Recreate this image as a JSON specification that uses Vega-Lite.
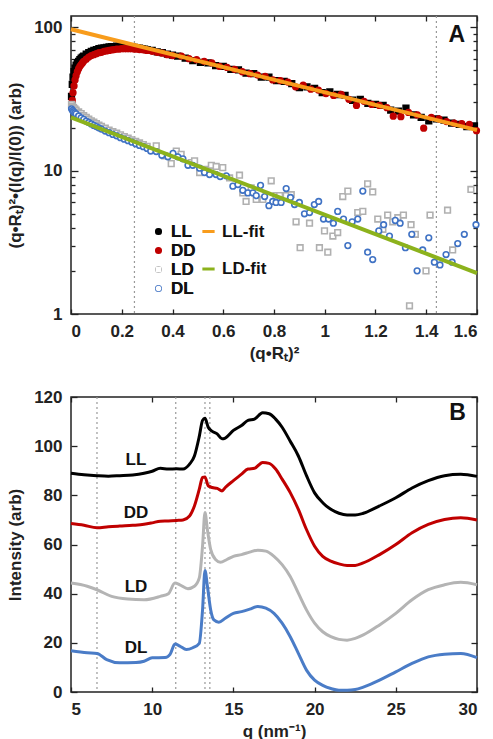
{
"$schema": "https://vega.github.io/schema/vega-lite/v6.json",
"padding": {"left": 5, "top": 14, "right": 5, "bottom": 0},
"background": "white",
"config": {
  "font": "Liberation Sans",
  "view": {"stroke": "#222", "strokeWidth": 1.5},
  "axis": {"labelFont": "Liberation Sans", "labelFontSize": 17, "labelFontWeight": "bold", "labelColor": "#222", "titleFont": "Liberation Sans", "titleFontSize": 17, "titleFontWeight": "bold", "titleColor": "#222", "grid": false, "domain": false, "tickColor": "#222", "tickWidth": 1.3}
},
"spacing": 25,
"resolve": {"scale": {"color": "independent", "x": "independent", "y": "independent"}},
"vconcat": [
{
  "width": 406, "height": 298,
  "resolve": {"axis": {"x": "independent", "y": "independent"}},
  "layer": [
    {
      "data": {"values": [{"v": 0.25}, {"v": 1.44}]},
      "mark": {"type": "rule", "color": "#999", "strokeDash": [2, 3], "strokeWidth": 1.2},
      "encoding": {
        "x": {"field": "v", "type": "quantitative", "scale": {"domain": [0, 1.6], "nice": false},
              "axis": {"orient": "top", "values": [0, 0.2, 0.4, 0.6, 0.8, 1, 1.2, 1.4, 1.6], "labels": false, "title": null, "tickSize": -5}}
      }
    },
    {
      "data": {"values": [
        {"s":"LL","x":0.002,"y":33},{"s":"LL","x":0.005,"y":40},{"s":"LL","x":0.008,"y":45},{"s":"LL","x":0.012,"y":49},{"s":"LL","x":0.016,"y":52},{"s":"LL","x":0.02,"y":54.5},{"s":"LL","x":0.025,"y":56.5},{"s":"LL","x":0.03,"y":58},{"s":"LL","x":0.035,"y":59.5},{"s":"LL","x":0.04,"y":61},{"s":"LL","x":0.045,"y":62},{"s":"LL","x":0.05,"y":63},{"s":"LL","x":0.06,"y":65},{"s":"LL","x":0.07,"y":66.5},{"s":"LL","x":0.08,"y":68},{"s":"LL","x":0.09,"y":69},{"s":"LL","x":0.1,"y":70},{"s":"LL","x":0.11,"y":71},{"s":"LL","x":0.12,"y":71.5},{"s":"LL","x":0.13,"y":72},{"s":"LL","x":0.14,"y":72.5},{"s":"LL","x":0.15,"y":73},{"s":"LL","x":0.16,"y":73.5},{"s":"LL","x":0.17,"y":73.5},{"s":"LL","x":0.18,"y":74},{"s":"LL","x":0.19,"y":74},{"s":"LL","x":0.2,"y":74},{"s":"LL","x":0.21,"y":73.5},{"s":"LL","x":0.22,"y":73.5},{"s":"LL","x":0.23,"y":73},{"s":"LL","x":0.24,"y":73},{"s":"LL","x":0.25,"y":72.5},{"s":"LL","x":0.26,"y":72},{"s":"LL","x":0.27,"y":71.5},{"s":"LL","x":0.28,"y":71},{"s":"LL","x":0.29,"y":70.5},{"s":"LL","x":0.3,"y":70},{"s":"LL","x":0.32,"y":69},{"s":"LL","x":0.34,"y":67.5},{"s":"LL","x":0.36,"y":66.5},{"s":"LL","x":0.38,"y":65},{"s":"LL","x":0.4,"y":64},
        {"s":"LL","x":0.42,"y":63},{"s":"LL","x":0.45,"y":61},{"s":"LL","x":0.48,"y":58.5},{"s":"LL","x":0.51,"y":57},{"s":"LL","x":0.54,"y":56.5},{"s":"LL","x":0.57,"y":54},{"s":"LL","x":0.6,"y":53.5},{"s":"LL","x":0.63,"y":51},{"s":"LL","x":0.66,"y":50.5},{"s":"LL","x":0.69,"y":48},{"s":"LL","x":0.72,"y":47.5},{"s":"LL","x":0.75,"y":45},{"s":"LL","x":0.78,"y":45},{"s":"LL","x":0.81,"y":42.5},{"s":"LL","x":0.84,"y":42},{"s":"LL","x":0.87,"y":40.5},{"s":"LL","x":0.9,"y":38},{"s":"LL","x":0.93,"y":38.5},{"s":"LL","x":0.96,"y":37.5},{"s":"LL","x":0.99,"y":35},{"s":"LL","x":1.02,"y":35.5},{"s":"LL","x":1.05,"y":34},{"s":"LL","x":1.08,"y":33.5},{"s":"LL","x":1.11,"y":31},{"s":"LL","x":1.14,"y":31.5},{"s":"LL","x":1.17,"y":29.5},{"s":"LL","x":1.2,"y":29},{"s":"LL","x":1.23,"y":28.5},{"s":"LL","x":1.26,"y":26.5},{"s":"LL","x":1.29,"y":26},{"s":"LL","x":1.32,"y":27.3},{"s":"LL","x":1.35,"y":24.5},{"s":"LL","x":1.38,"y":23.5},{"s":"LL","x":1.41,"y":22.3},{"s":"LL","x":1.44,"y":23},{"s":"LL","x":1.47,"y":22.5},{"s":"LL","x":1.5,"y":21.5},{"s":"LL","x":1.53,"y":21},{"s":"LL","x":1.56,"y":20.3},{"s":"LL","x":1.59,"y":20.5},
        {"s":"DD","x":0.003,"y":28},{"s":"DD","x":0.005,"y":31},{"s":"DD","x":0.008,"y":35},{"s":"DD","x":0.012,"y":39},{"s":"DD","x":0.016,"y":43},{"s":"DD","x":0.02,"y":46},{"s":"DD","x":0.025,"y":49},{"s":"DD","x":0.03,"y":51.5},{"s":"DD","x":0.035,"y":53.5},{"s":"DD","x":0.04,"y":55},{"s":"DD","x":0.045,"y":56.5},{"s":"DD","x":0.05,"y":58},{"s":"DD","x":0.06,"y":60},{"s":"DD","x":0.07,"y":62},{"s":"DD","x":0.08,"y":63.5},{"s":"DD","x":0.09,"y":64.5},{"s":"DD","x":0.1,"y":65.5},{"s":"DD","x":0.11,"y":66.5},{"s":"DD","x":0.12,"y":67},{"s":"DD","x":0.13,"y":68},{"s":"DD","x":0.14,"y":68.5},{"s":"DD","x":0.15,"y":69},{"s":"DD","x":0.16,"y":69.5},{"s":"DD","x":0.17,"y":70},{"s":"DD","x":0.18,"y":70.5},{"s":"DD","x":0.19,"y":70.5},{"s":"DD","x":0.2,"y":71},{"s":"DD","x":0.21,"y":71},{"s":"DD","x":0.22,"y":71},{"s":"DD","x":0.23,"y":71},{"s":"DD","x":0.24,"y":71},{"s":"DD","x":0.25,"y":70.5},{"s":"DD","x":0.26,"y":70.5},{"s":"DD","x":0.27,"y":70},{"s":"DD","x":0.28,"y":70},{"s":"DD","x":0.29,"y":69.5},{"s":"DD","x":0.3,"y":69},{"s":"DD","x":0.32,"y":68},{"s":"DD","x":0.34,"y":67},{"s":"DD","x":0.36,"y":66},{"s":"DD","x":0.38,"y":64.5},{"s":"DD","x":0.4,"y":63.5},
        {"s":"DD","x":0.435,"y":63},{"s":"DD","x":0.465,"y":60.5},{"s":"DD","x":0.495,"y":59.5},{"s":"DD","x":0.525,"y":58},{"s":"DD","x":0.555,"y":56.5},{"s":"DD","x":0.585,"y":53.5},{"s":"DD","x":0.615,"y":52.5},{"s":"DD","x":0.645,"y":51},{"s":"DD","x":0.675,"y":49},{"s":"DD","x":0.705,"y":47.5},{"s":"DD","x":0.735,"y":46.5},{"s":"DD","x":0.765,"y":45.5},{"s":"DD","x":0.795,"y":43},{"s":"DD","x":0.825,"y":42.5},{"s":"DD","x":0.855,"y":41.5},{"s":"DD","x":0.885,"y":38.5},{"s":"DD","x":0.915,"y":39.5},{"s":"DD","x":0.945,"y":37},{"s":"DD","x":0.975,"y":36.5},{"s":"DD","x":1.005,"y":34.5},{"s":"DD","x":1.035,"y":33.5},{"s":"DD","x":1.065,"y":34},{"s":"DD","x":1.095,"y":31.5},{"s":"DD","x":1.125,"y":28.5},{"s":"DD","x":1.155,"y":30.5},{"s":"DD","x":1.185,"y":29},{"s":"DD","x":1.215,"y":28.5},{"s":"DD","x":1.245,"y":27.5},{"s":"DD","x":1.27,"y":24},{"s":"DD","x":1.3,"y":23.8},{"s":"DD","x":1.33,"y":25.5},{"s":"DD","x":1.365,"y":24.5},{"s":"DD","x":1.39,"y":19.8},{"s":"DD","x":1.42,"y":23.5},{"s":"DD","x":1.45,"y":23},{"s":"DD","x":1.48,"y":22},{"s":"DD","x":1.51,"y":21.5},{"s":"DD","x":1.54,"y":21.3},{"s":"DD","x":1.57,"y":21},{"s":"DD","x":1.598,"y":19},
        {"s":"LD","x":0.002,"y":29},{"s":"LD","x":0.006,"y":28.2},{"s":"LD","x":0.01,"y":27.5},{"s":"LD","x":0.015,"y":27},{"s":"LD","x":0.02,"y":26.5},{"s":"LD","x":0.03,"y":25.7},{"s":"LD","x":0.04,"y":25},{"s":"LD","x":0.05,"y":24.2},{"s":"LD","x":0.06,"y":23.5},{"s":"LD","x":0.07,"y":22.9},{"s":"LD","x":0.08,"y":22.3},{"s":"LD","x":0.09,"y":21.8},{"s":"LD","x":0.1,"y":21.3},{"s":"LD","x":0.11,"y":20.8},{"s":"LD","x":0.12,"y":20.4},{"s":"LD","x":0.135,"y":19.8},{"s":"LD","x":0.15,"y":19.2},{"s":"LD","x":0.165,"y":18.7},{"s":"LD","x":0.18,"y":18.3},{"s":"LD","x":0.195,"y":17.8},{"s":"LD","x":0.21,"y":17.3},{"s":"LD","x":0.225,"y":16.9},{"s":"LD","x":0.24,"y":16.4},{"s":"LD","x":0.255,"y":16},{"s":"LD","x":0.27,"y":15.6},{"s":"LD","x":0.285,"y":15.2},{"s":"LD","x":0.3,"y":14.8},
        {"s":"LD","x":0.336,"y":14.9},{"s":"LD","x":0.369,"y":12.7},{"s":"LD","x":0.395,"y":11.2},{"s":"LD","x":0.415,"y":13.7},{"s":"LD","x":0.434,"y":13},{"s":"LD","x":0.474,"y":11.4},{"s":"LD","x":0.487,"y":11.7},{"s":"LD","x":0.507,"y":9.7},{"s":"LD","x":0.526,"y":10.2},{"s":"LD","x":0.553,"y":10.9},{"s":"LD","x":0.572,"y":10.7},{"s":"LD","x":0.598,"y":10.5},{"s":"LD","x":0.625,"y":8.9},{"s":"LD","x":0.664,"y":9.3},{"s":"LD","x":0.677,"y":7},{"s":"LD","x":0.69,"y":6.1},{"s":"LD","x":0.71,"y":7.6},{"s":"LD","x":0.73,"y":6.3},{"s":"LD","x":0.756,"y":6.3},{"s":"LD","x":0.789,"y":8.5},{"s":"LD","x":0.808,"y":6.7},{"s":"LD","x":0.822,"y":6.7},{"s":"LD","x":0.848,"y":6.7},{"s":"LD","x":0.868,"y":6.8},{"s":"LD","x":0.887,"y":4.4},{"s":"LD","x":0.903,"y":2.9},{"s":"LD","x":0.94,"y":4.3},{"s":"LD","x":0.979,"y":2.9},{"s":"LD","x":0.999,"y":3.8},{"s":"LD","x":1.012,"y":2.7},{"s":"LD","x":1.032,"y":3.5},{"s":"LD","x":1.051,"y":3.7},{"s":"LD","x":1.071,"y":6.6},{"s":"LD","x":1.091,"y":7.2},{"s":"LD","x":1.13,"y":5.1},{"s":"LD","x":1.15,"y":5.2},{"s":"LD","x":1.169,"y":8.1},{"s":"LD","x":1.189,"y":7.1},{"s":"LD","x":1.209,"y":4.6},{"s":"LD","x":1.229,"y":3.9},{"s":"LD","x":1.248,"y":4.9},{"s":"LD","x":1.268,"y":4.4},{"s":"LD","x":1.288,"y":4.7},{"s":"LD","x":1.31,"y":4.9},{"s":"LD","x":1.334,"y":1.14},{"s":"LD","x":1.34,"y":4.2},{"s":"LD","x":1.357,"y":3.6},{"s":"LD","x":1.399,"y":2},{"s":"LD","x":1.415,"y":4.9},{"s":"LD","x":1.484,"y":5.3},{"s":"LD","x":1.504,"y":2.8},{"s":"LD","x":1.576,"y":7.4},
        {"s":"DL","x":0.002,"y":27},{"s":"DL","x":0.006,"y":26.3},{"s":"DL","x":0.01,"y":25.8},{"s":"DL","x":0.015,"y":25.3},{"s":"DL","x":0.02,"y":24.9},{"s":"DL","x":0.03,"y":24.1},{"s":"DL","x":0.04,"y":23.4},{"s":"DL","x":0.05,"y":22.8},{"s":"DL","x":0.06,"y":22.2},{"s":"DL","x":0.07,"y":21.7},{"s":"DL","x":0.08,"y":21.2},{"s":"DL","x":0.09,"y":20.7},{"s":"DL","x":0.1,"y":20.3},{"s":"DL","x":0.11,"y":19.9},{"s":"DL","x":0.12,"y":19.5},{"s":"DL","x":0.135,"y":18.9},{"s":"DL","x":0.15,"y":18.4},{"s":"DL","x":0.165,"y":17.9},{"s":"DL","x":0.18,"y":17.5},{"s":"DL","x":0.195,"y":17},{"s":"DL","x":0.21,"y":16.6},{"s":"DL","x":0.225,"y":16.2},{"s":"DL","x":0.24,"y":15.8},{"s":"DL","x":0.255,"y":15.4},{"s":"DL","x":0.27,"y":15},{"s":"DL","x":0.285,"y":14.7},{"s":"DL","x":0.3,"y":14.3},
        {"s":"DL","x":0.314,"y":13.7},{"s":"DL","x":0.336,"y":13.6},{"s":"DL","x":0.358,"y":12.8},{"s":"DL","x":0.382,"y":12.5},{"s":"DL","x":0.402,"y":13.2},{"s":"DL","x":0.421,"y":12.5},{"s":"DL","x":0.441,"y":12.1},{"s":"DL","x":0.461,"y":10.9},{"s":"DL","x":0.48,"y":10.9},{"s":"DL","x":0.507,"y":10.4},{"s":"DL","x":0.526,"y":9.7},{"s":"DL","x":0.546,"y":9.4},{"s":"DL","x":0.572,"y":9.4},{"s":"DL","x":0.588,"y":9.1},{"s":"DL","x":0.612,"y":9.2},{"s":"DL","x":0.638,"y":7.8},{"s":"DL","x":0.658,"y":8},{"s":"DL","x":0.677,"y":7.3},{"s":"DL","x":0.697,"y":7},{"s":"DL","x":0.717,"y":7},{"s":"DL","x":0.73,"y":6.7},{"s":"DL","x":0.747,"y":7.9},{"s":"DL","x":0.763,"y":6.6},{"s":"DL","x":0.78,"y":5.7},{"s":"DL","x":0.795,"y":6.1},{"s":"DL","x":0.808,"y":6},{"s":"DL","x":0.828,"y":6},{"s":"DL","x":0.848,"y":7.5},{"s":"DL","x":0.865,"y":6.5},{"s":"DL","x":0.881,"y":5.8},{"s":"DL","x":0.9,"y":6},{"s":"DL","x":0.92,"y":5},{"s":"DL","x":0.94,"y":5.1},{"s":"DL","x":0.959,"y":5.8},{"s":"DL","x":0.976,"y":6.1},{"s":"DL","x":0.995,"y":4.6},{"s":"DL","x":1.015,"y":4.6},{"s":"DL","x":1.034,"y":4.3},{"s":"DL","x":1.051,"y":5.2},{"s":"DL","x":1.074,"y":4.6},{"s":"DL","x":1.091,"y":3},{"s":"DL","x":1.108,"y":4.4},{"s":"DL","x":1.13,"y":4.6},{"s":"DL","x":1.15,"y":7.2},{"s":"DL","x":1.169,"y":2.7},{"s":"DL","x":1.189,"y":2.4},{"s":"DL","x":1.213,"y":3.8},{"s":"DL","x":1.232,"y":4.2},{"s":"DL","x":1.255,"y":3.5},{"s":"DL","x":1.278,"y":4.5},{"s":"DL","x":1.297,"y":4.3},{"s":"DL","x":1.318,"y":2.9},{"s":"DL","x":1.343,"y":3.6},{"s":"DL","x":1.364,"y":2},{"s":"DL","x":1.386,"y":2.8},{"s":"DL","x":1.41,"y":3.4},{"s":"DL","x":1.432,"y":2.3},{"s":"DL","x":1.454,"y":2.2},{"s":"DL","x":1.478,"y":2.6},{"s":"DL","x":1.502,"y":2.3},{"s":"DL","x":1.524,"y":3.1},{"s":"DL","x":1.55,"y":3.6},{"s":"DL","x":1.596,"y":4.2}
      ]},
      "mark": {"type": "point", "filled": false, "size": 32, "strokeWidth": 1.6, "opacity": 1},
      "encoding": {
        "x": {"field": "x", "type": "quantitative", "scale": {"domain": [0, 1.6], "nice": false},
              "axis": {"orient": "bottom", "values": [0, 0.2, 0.4, 0.6, 0.8, 1, 1.2, 1.4, 1.6], "format": "~g", "title": "(q•Rₜ)²", "tickSize": -5, "labelPadding": 14, "titlePadding": 6}},
        "y": {"field": "y", "type": "quantitative", "scale": {"type": "log", "domain": [1, 120], "nice": false},
              "axis": {"orient": "left", "values": [1, 2, 3, 4, 5, 6, 7, 8, 9, 10, 20, 30, 40, 50, 60, 70, 80, 90, 100], "format": "~g",
                       "labelExpr": "(datum.value == 1 || datum.value == 10 || datum.value == 100) ? datum.label : ''",
                       "tickSize": {"condition": {"test": "datum.value == 1 || datum.value == 10 || datum.value == 100", "value": -7}, "value": -4},
                       "labelPadding": 16, "title": "(q•Rₜ)²•(I(q)/I(0)) (arb)", "titlePadding": 9}},
        "color": {"field": "s", "type": "nominal", "scale": {"domain": ["LL", "DD", "LD", "DL"], "range": ["#000000", "#c00000", "#b0b0b0", "#3f72c4"]},
                  "legend": {"orient": "none", "legendX": 79, "legendY": 207, "title": null, "padding": 0, "labelFont": "Liberation Sans", "labelFontSize": 17, "labelFontWeight": "bold", "labelColor": "#111", "symbolSize": 30, "symbolStrokeWidth": 1.6, "rowPadding": 1, "labelOffset": 4}},
        "fill": {"field": "s", "type": "nominal", "scale": {"domain": ["LL", "DD", "LD", "DL"], "range": ["#000000", "#c00000", "#ffffff", "#ffffff"]},
                 "legend": {"orient": "none", "legendX": 79, "legendY": 207, "title": null, "padding": 0, "labelFont": "Liberation Sans", "labelFontSize": 17, "labelFontWeight": "bold", "labelColor": "#111", "symbolSize": 30, "symbolStrokeWidth": 1.6, "rowPadding": 1, "labelOffset": 4}},
        "shape": {"field": "s", "type": "nominal", "scale": {"domain": ["LL", "DD", "LD", "DL"], "range": ["square", "circle", "square", "circle"]},
                  "legend": {"orient": "none", "legendX": 79, "legendY": 207, "title": null, "padding": 0, "labelFont": "Liberation Sans", "labelFontSize": 17, "labelFontWeight": "bold", "labelColor": "#111", "symbolSize": 30, "symbolStrokeWidth": 1.6, "rowPadding": 1, "labelOffset": 4}}
      }
    },
    {
      "data": {"values": [{"f": "LL-fit", "x": 0, "y": 97}, {"f": "LL-fit", "x": 1.6, "y": 19.2}, {"f": "LD-fit", "x": 0, "y": 23.5}, {"f": "LD-fit", "x": 1.6, "y": 1.93}]},
      "mark": {"type": "line", "strokeWidth": 4},
      "encoding": {
        "x": {"field": "x", "type": "quantitative", "axis": null},
        "y": {"field": "y", "type": "quantitative",
              "axis": {"orient": "right", "values": [1, 2, 3, 4, 5, 6, 7, 8, 9, 10, 20, 30, 40, 50, 60, 70, 80, 90, 100], "labels": false, "title": null,
                       "tickSize": {"condition": {"test": "datum.value == 1 || datum.value == 10 || datum.value == 100", "value": -7}, "value": -4}}},
        "stroke": {"field": "f", "type": "nominal", "scale": {"domain": ["LL-fit", "LD-fit"], "range": ["#f89c1c", "#8cb21c"]},
                   "legend": {"orient": "none", "legendX": 129, "legendY": 207, "title": null, "padding": 0, "labelFont": "Liberation Sans", "labelFontSize": 17, "labelFontWeight": "bold", "labelColor": "#111", "symbolSize": 150, "symbolStrokeWidth": 3, "rowPadding": 19.5, "labelOffset": 5}}
      }
    },
    {
      "data": {"values": [{"t": "A", "x": 1.52, "y": 88}]},
      "mark": {"type": "text", "fontSize": 23, "fontWeight": "bold", "font": "Liberation Sans", "color": "#111", "align": "center", "baseline": "middle"},
      "encoding": {
        "x": {"field": "x", "type": "quantitative", "axis": null},
        "y": {"field": "y", "type": "quantitative", "axis": null},
        "text": {"field": "t"}
      }
    }
  ]
},
{
  "width": 406, "height": 295,
  "resolve": {"axis": {"x": "independent", "y": "independent"}},
  "layer": [
    {
      "data": {"values": [{"v": 6.6}, {"v": 11.45}, {"v": 13.25}, {"v": 13.55}]},
      "mark": {"type": "rule", "color": "#999", "strokeDash": [2, 3], "strokeWidth": 1.2},
      "encoding": {
        "x": {"field": "v", "type": "quantitative", "scale": {"domain": [5, 30], "nice": false},
              "axis": {"orient": "top", "values": [5, 10, 15, 20, 25, 30], "labels": false, "title": null, "tickSize": -5}}
      }
    },
    {
      "data": {"values": [
        {"s":"LL","q":5,"v":89},{"s":"LL","q":5.8,"v":88.4},{"s":"LL","q":6.6,"v":88},{"s":"LL","q":7.3,"v":87.8},{"s":"LL","q":8,"v":88},{"s":"LL","q":8.8,"v":88.3},{"s":"LL","q":9.5,"v":89},{"s":"LL","q":10,"v":89.8},{"s":"LL","q":10.5,"v":91},{"s":"LL","q":11,"v":90.7},{"s":"LL","q":11.5,"v":90.8},{"s":"LL","q":11.9,"v":90.7},{"s":"LL","q":12.3,"v":92.7},{"s":"LL","q":12.6,"v":96},{"s":"LL","q":12.9,"v":104},{"s":"LL","q":13.1,"v":110.5},{"s":"LL","q":13.25,"v":111.4},{"s":"LL","q":13.45,"v":107.7},{"s":"LL","q":13.7,"v":106},{"s":"LL","q":14,"v":105},{"s":"LL","q":14.3,"v":103},{"s":"LL","q":14.5,"v":103.3},{"s":"LL","q":15,"v":106.4},{"s":"LL","q":15.5,"v":108.4},{"s":"LL","q":15.9,"v":110.5},{"s":"LL","q":16.3,"v":111},{"s":"LL","q":16.8,"v":113.6},{"s":"LL","q":17.2,"v":113.2},{"s":"LL","q":17.6,"v":111},{"s":"LL","q":18,"v":107.7},{"s":"LL","q":18.5,"v":102},{"s":"LL","q":19,"v":96},{"s":"LL","q":19.5,"v":88},{"s":"LL","q":20,"v":81},{"s":"LL","q":20.5,"v":77},{"s":"LL","q":21,"v":74.3},{"s":"LL","q":21.5,"v":72.7},{"s":"LL","q":22,"v":72},{"s":"LL","q":22.5,"v":72},{"s":"LL","q":23,"v":72.7},{"s":"LL","q":24,"v":75.7},{"s":"LL","q":25,"v":79},{"s":"LL","q":26,"v":83},{"s":"LL","q":27,"v":86},{"s":"LL","q":28,"v":88},{"s":"LL","q":29,"v":88.6},{"s":"LL","q":30,"v":87.7},
        {"s":"DD","q":5,"v":68.5},{"s":"DD","q":5.8,"v":67.8},{"s":"DD","q":6.6,"v":66.8},{"s":"DD","q":7.3,"v":67.2},{"s":"DD","q":8,"v":67.5},{"s":"DD","q":8.8,"v":67.8},{"s":"DD","q":9.5,"v":68.2},{"s":"DD","q":10,"v":68.8},{"s":"DD","q":10.5,"v":69.5},{"s":"DD","q":11,"v":69.6},{"s":"DD","q":11.5,"v":69.8},{"s":"DD","q":11.9,"v":70},{"s":"DD","q":12.3,"v":71.6},{"s":"DD","q":12.6,"v":75.7},{"s":"DD","q":12.9,"v":82.5},{"s":"DD","q":13.1,"v":87.3},{"s":"DD","q":13.25,"v":87.5},{"s":"DD","q":13.45,"v":83.9},{"s":"DD","q":13.7,"v":83.2},{"s":"DD","q":14,"v":82.8},{"s":"DD","q":14.3,"v":81.8},{"s":"DD","q":14.5,"v":83.2},{"s":"DD","q":15,"v":86},{"s":"DD","q":15.5,"v":88.6},{"s":"DD","q":15.9,"v":90.7},{"s":"DD","q":16.3,"v":91},{"s":"DD","q":16.8,"v":93.4},{"s":"DD","q":17.2,"v":93},{"s":"DD","q":17.6,"v":90.7},{"s":"DD","q":18,"v":86.6},{"s":"DD","q":18.5,"v":81.1},{"s":"DD","q":19,"v":74.3},{"s":"DD","q":19.5,"v":66.1},{"s":"DD","q":20,"v":59.3},{"s":"DD","q":20.5,"v":55.2},{"s":"DD","q":21,"v":53.2},{"s":"DD","q":21.5,"v":52.1},{"s":"DD","q":22,"v":51.5},{"s":"DD","q":22.5,"v":51.5},{"s":"DD","q":23,"v":52.5},{"s":"DD","q":24,"v":55.9},{"s":"DD","q":25,"v":60},{"s":"DD","q":26,"v":64.8},{"s":"DD","q":27,"v":68.2},{"s":"DD","q":28,"v":70.2},{"s":"DD","q":29,"v":70.9},{"s":"DD","q":30,"v":70},
        {"s":"LD","q":5,"v":44.3},{"s":"LD","q":6,"v":43},{"s":"LD","q":6.6,"v":41.6},{"s":"LD","q":7.5,"v":38.9},{"s":"LD","q":8.5,"v":37.8},{"s":"LD","q":9.5,"v":37.5},{"s":"LD","q":10.5,"v":38.9},{"s":"LD","q":11,"v":40},{"s":"LD","q":11.4,"v":44.3},{"s":"LD","q":11.7,"v":43.6},{"s":"LD","q":12.2,"v":42},{"s":"LD","q":12.6,"v":43},{"s":"LD","q":12.9,"v":46.4},{"s":"LD","q":13.1,"v":59.3},{"s":"LD","q":13.25,"v":73},{"s":"LD","q":13.4,"v":66},{"s":"LD","q":13.6,"v":58},{"s":"LD","q":13.9,"v":53.9},{"s":"LD","q":14.2,"v":52.8},{"s":"LD","q":14.6,"v":53.9},{"s":"LD","q":15,"v":55.2},{"s":"LD","q":15.5,"v":55.9},{"s":"LD","q":16,"v":56.9},{"s":"LD","q":16.5,"v":57.7},{"s":"LD","q":17,"v":57.3},{"s":"LD","q":17.5,"v":55.2},{"s":"LD","q":18,"v":51.8},{"s":"LD","q":18.5,"v":47},{"s":"LD","q":19,"v":40.2},{"s":"LD","q":19.5,"v":33.4},{"s":"LD","q":20,"v":28},{"s":"LD","q":20.5,"v":24.5},{"s":"LD","q":21,"v":22.5},{"s":"LD","q":21.5,"v":21.4},{"s":"LD","q":22,"v":21.1},{"s":"LD","q":22.5,"v":21.8},{"s":"LD","q":23,"v":23.2},{"s":"LD","q":24,"v":27.3},{"s":"LD","q":25,"v":32},{"s":"LD","q":26,"v":37.5},{"s":"LD","q":27,"v":41.6},{"s":"LD","q":28,"v":43.6},{"s":"LD","q":29,"v":44.6},{"s":"LD","q":30,"v":43.6},
        {"s":"DL","q":5,"v":16.8},{"s":"DL","q":6,"v":16},{"s":"DL","q":6.6,"v":15.7},{"s":"DL","q":7.2,"v":13.2},{"s":"DL","q":8,"v":11.9},{"s":"DL","q":9,"v":12},{"s":"DL","q":9.5,"v":12.5},{"s":"DL","q":10,"v":13.9},{"s":"DL","q":10.8,"v":14},{"s":"DL","q":11.1,"v":15.3},{"s":"DL","q":11.4,"v":19.5},{"s":"DL","q":11.7,"v":18.7},{"s":"DL","q":12.1,"v":17.3},{"s":"DL","q":12.5,"v":18},{"s":"DL","q":12.9,"v":19.8},{"s":"DL","q":13.1,"v":33.4},{"s":"DL","q":13.25,"v":49.4},{"s":"DL","q":13.4,"v":43},{"s":"DL","q":13.6,"v":33.4},{"s":"DL","q":13.8,"v":29.3},{"s":"DL","q":14.1,"v":28.4},{"s":"DL","q":14.5,"v":30},{"s":"DL","q":15,"v":32},{"s":"DL","q":15.5,"v":32.7},{"s":"DL","q":16,"v":33.7},{"s":"DL","q":16.5,"v":34.8},{"s":"DL","q":17,"v":34.1},{"s":"DL","q":17.5,"v":32},{"s":"DL","q":18,"v":28},{"s":"DL","q":18.5,"v":22.5},{"s":"DL","q":19,"v":15.7},{"s":"DL","q":19.5,"v":8.9},{"s":"DL","q":20,"v":4.8},{"s":"DL","q":20.5,"v":2.7},{"s":"DL","q":21,"v":1.4},{"s":"DL","q":21.5,"v":0.7},{"s":"DL","q":22,"v":0.7},{"s":"DL","q":22.5,"v":1},{"s":"DL","q":23,"v":2},{"s":"DL","q":24,"v":4.8},{"s":"DL","q":25,"v":8.2},{"s":"DL","q":26,"v":11.6},{"s":"DL","q":27,"v":14.3},{"s":"DL","q":28,"v":15.4},{"s":"DL","q":29,"v":15.7},{"s":"DL","q":30,"v":14}
      ]},
      "mark": {"type": "line", "strokeWidth": 3, "interpolate": "monotone"},
      "encoding": {
        "x": {"field": "q", "type": "quantitative",
              "axis": {"orient": "bottom", "values": [5, 10, 15, 20, 25, 30], "title": "q (nm⁻¹)", "tickSize": -5, "labelPadding": 14, "titlePadding": 6}},
        "y": {"field": "v", "type": "quantitative", "scale": {"domain": [0, 120], "nice": false},
              "axis": {"orient": "left", "values": [0, 20, 40, 60, 80, 100, 120], "title": "Intensity (arb)", "tickSize": -6, "labelPadding": 15, "titlePadding": 9}},
        "color": {"field": "s", "type": "nominal", "scale": {"domain": ["LL", "DD", "LD", "DL"], "range": ["#000000", "#c00000", "#b4b4b4", "#4a7cc7"]}, "legend": null}
      }
    },
    {
      "data": {"values": [{"t": "LL", "q": 9.0, "v": 94.5}, {"t": "DD", "q": 9.0, "v": 73}, {"t": "LD", "q": 9.0, "v": 42.7}, {"t": "DL", "q": 9.0, "v": 17.7}]},
      "mark": {"type": "text", "fontSize": 17, "fontWeight": "bold", "font": "Liberation Sans", "color": "#111", "align": "center", "baseline": "middle"},
      "encoding": {
        "x": {"field": "q", "type": "quantitative", "axis": null},
        "y": {"field": "v", "type": "quantitative",
              "axis": {"orient": "right", "values": [0, 20, 40, 60, 80, 100, 120], "labels": false, "title": null, "tickSize": -6}},
        "text": {"field": "t"}
      }
    },
    {
      "data": {"values": [{"t": "B", "q": 28.8, "v": 113.5}]},
      "mark": {"type": "text", "fontSize": 23, "fontWeight": "bold", "font": "Liberation Sans", "color": "#111", "align": "center", "baseline": "middle"},
      "encoding": {
        "x": {"field": "q", "type": "quantitative", "axis": null},
        "y": {"field": "v", "type": "quantitative", "axis": null},
        "text": {"field": "t"}
      }
    }
  ]
}
]
}
